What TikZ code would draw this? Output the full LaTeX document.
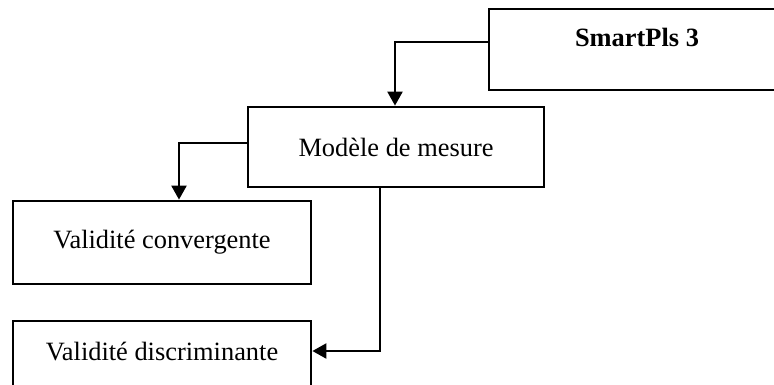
\documentclass[tikz,border=0pt]{standalone}
\usepackage{fontspec}
\setmainfont{Liberation Serif}
\usetikzlibrary{arrows.meta}
\begin{document}
\begin{tikzpicture}[x=1pt,y=-1pt,
  box/.style={draw,line width=2.8pt,rectangle,inner sep=0pt,font=\fontsize{26.4}{30}\selectfont},
  lbl/.style={inner sep=0pt,font=\fontsize{26.4}{30}\selectfont},
  arr/.style={line width=2.3pt,-{Triangle[length=14pt,width=15pt]}}]
\useasboundingbox (0,0) rectangle (774,384);
\clip (0,0) rectangle (774,384);
\node[box,minimum width=287pt,minimum height=81pt] (sp) at (632.5,49.5) {};
\node[lbl,font=\fontsize{26.4}{30}\selectfont\bfseries] (sptext) at (637,37) {SmartPls 3};
\node[box,minimum width=296pt,minimum height=80pt] (mm) at (396,147) {Modèle de mesure};
\node[box,minimum width=298pt,minimum height=83pt] (vc) at (162,242.5) {Validité convergente};
\node[box,minimum width=298pt,minimum height=69pt] (vd) at (162,355.5) {};
\node[lbl] (vdtext) at (162,352) {Validité discriminante};
\draw[arr] ([yshift=7.5pt]sp.west) -| ([xshift=-1pt]mm.north);
\draw[arr] ([yshift=4pt]mm.west) -| ([xshift=17pt]vc.north);
\draw[arr] ([xshift=-16pt]mm.south) |- ([yshift=4.5pt]vd.east);
\end{tikzpicture}
\end{document}
